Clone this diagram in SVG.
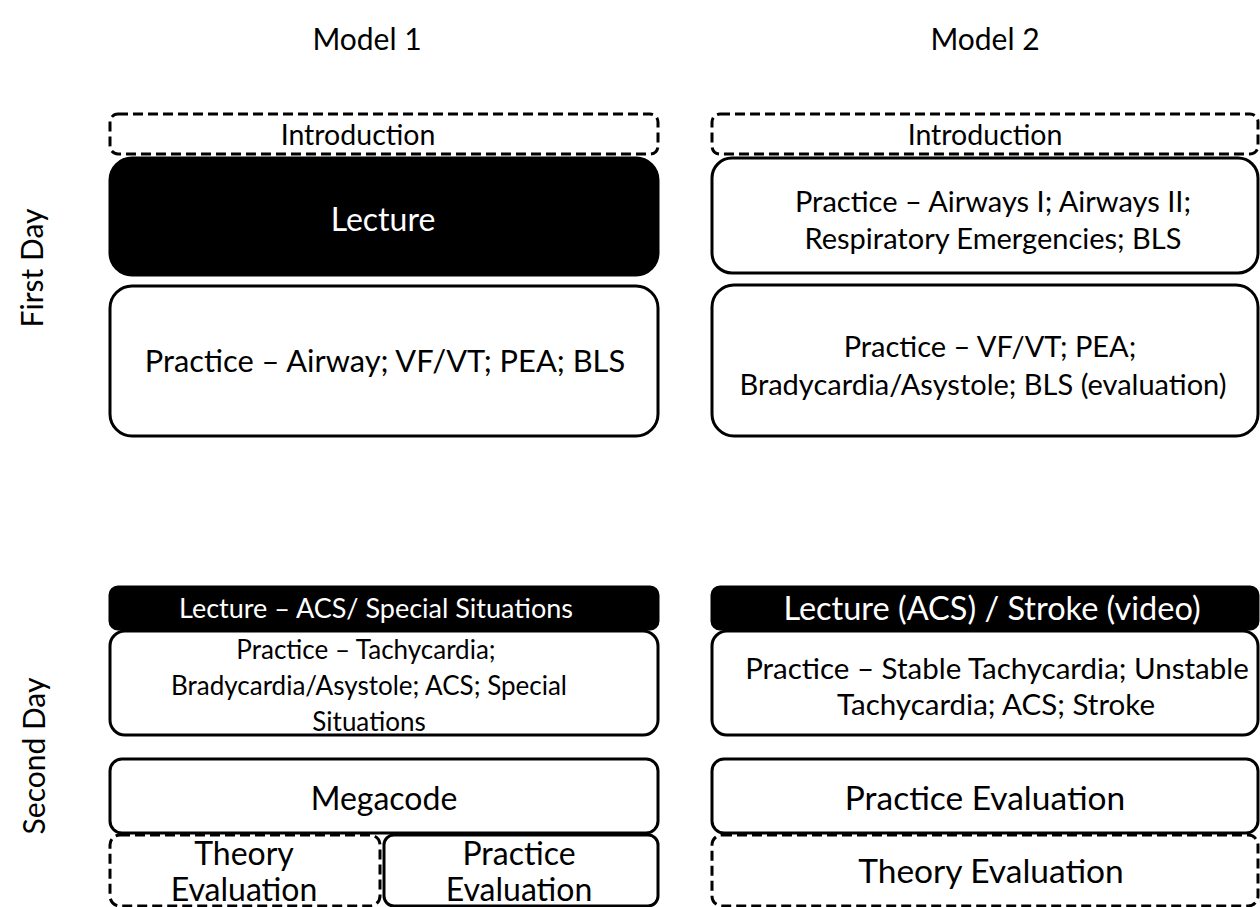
<svg xmlns="http://www.w3.org/2000/svg" width="1260" height="907" viewBox="0 0 1260 907">
<style>
text{font-family:Lato,"Open Sans","Liberation Sans",sans-serif;fill:#000;text-anchor:middle;dominant-baseline:central}
.w{fill:#fff}
.box{fill:#fff;stroke:#000;stroke-width:3}
.dash{fill:#fff;stroke:#000;stroke-width:3;stroke-dasharray:10 5}
.blk{fill:#000;stroke:#000;stroke-width:3}
.h{font-size:30px}
.b{font-size:32px}
.i{font-size:28.5px}
.p{font-size:29px}
.s{font-size:26px}
.e{font-size:33.5px}
</style>
<rect width="1260" height="907" fill="#fff"/>
<g id="headers">
<text x="367" y="38" class="h">Model 1</text>
<text x="985" y="38" class="h">Model 2</text>
<text transform="translate(31,268) rotate(-90)" class="h">First Day</text>
<text transform="translate(33,756) rotate(-90)" class="h">Second Day</text>
</g>
<g id="m1-intro"><rect x="110" y="114" width="548" height="40" rx="8" class="dash"/><text x="358" y="134" class="i">Introduction</text></g>
<g id="m1-lecture"><rect x="110" y="158" width="548" height="117" rx="22" class="blk"/><text x="383" y="218" class="b w">Lecture</text></g>
<g id="m1-practice"><rect x="110" y="286" width="548" height="150" rx="22" class="box"/><text x="385" y="360" style="font-size:30.8px">Practice – Airway; VF/VT; PEA; BLS</text></g>
<g id="m2-intro"><rect x="712" y="114" width="546" height="40" rx="8" class="dash"/><text x="985" y="134" class="i">Introduction</text></g>
<g id="m2-practice1"><rect x="712" y="158" width="546" height="115" rx="20" class="box"/><text x="993" y="200" class="p">Practice – Airways I; Airways II;</text><text x="993" y="237" class="p">Respiratory Emergencies; BLS</text></g>
<g id="m2-practice2"><rect x="712" y="285" width="546" height="151" rx="22" class="box"/><text x="990" y="345" class="p">Practice – VF/VT; PEA;</text><text x="983" y="383" class="p">Bradycardia/Asystole; BLS (evaluation)</text></g>
<g id="m1-lecture2"><rect x="110" y="587" width="548" height="42" rx="8" class="blk"/><text x="376" y="607" class="w" style="font-size:27px">Lecture – ACS/ Special Situations</text></g>
<g id="m1-practice2"><rect x="110" y="631" width="548" height="104" rx="15" class="box"/><text x="366" y="649" class="s">Practice – Tachycardia;</text><text x="369" y="685" class="s">Bradycardia/Asystole; ACS; Special</text><text x="369" y="721" class="s">Situations</text></g>
<g id="m1-megacode"><rect x="110" y="759" width="548" height="74" rx="12" class="box"/><text x="384" y="797" class="b">Megacode</text></g>
<g id="m1-theory"><rect x="110" y="835" width="270" height="71" rx="10" class="dash"/><text x="244" y="852" class="b">Theory</text><text x="244" y="888" class="b">Evaluation</text></g>
<g id="m1-practice-eval"><rect x="384" y="835" width="274" height="71" rx="10" class="box"/><text x="519" y="852" class="b">Practice</text><text x="519" y="888" class="b">Evaluation</text></g>
<g id="m2-lecture2"><rect x="712" y="587" width="546" height="42" rx="8" class="blk"/><text x="992" y="607" class="w" style="font-size:32.5px">Lecture (ACS) / Stroke (video)</text></g>
<g id="m2-practice3"><rect x="712" y="631" width="546" height="104" rx="15" class="box"/><text x="997" y="667" style="font-size:29.5px">Practice – Stable Tachycardia; Unstable</text><text x="996" y="703" style="font-size:29.5px">Tachycardia; ACS; Stroke</text></g>
<g id="m2-practice-eval"><rect x="712" y="759" width="546" height="74" rx="12" class="box"/><text x="985" y="797" class="e">Practice Evaluation</text></g>
<g id="m2-theory"><rect x="712" y="835" width="546" height="71" rx="10" class="dash"/><text x="991" y="870" class="e">Theory Evaluation</text></g>
<g id="connectors"></g>
</svg>
